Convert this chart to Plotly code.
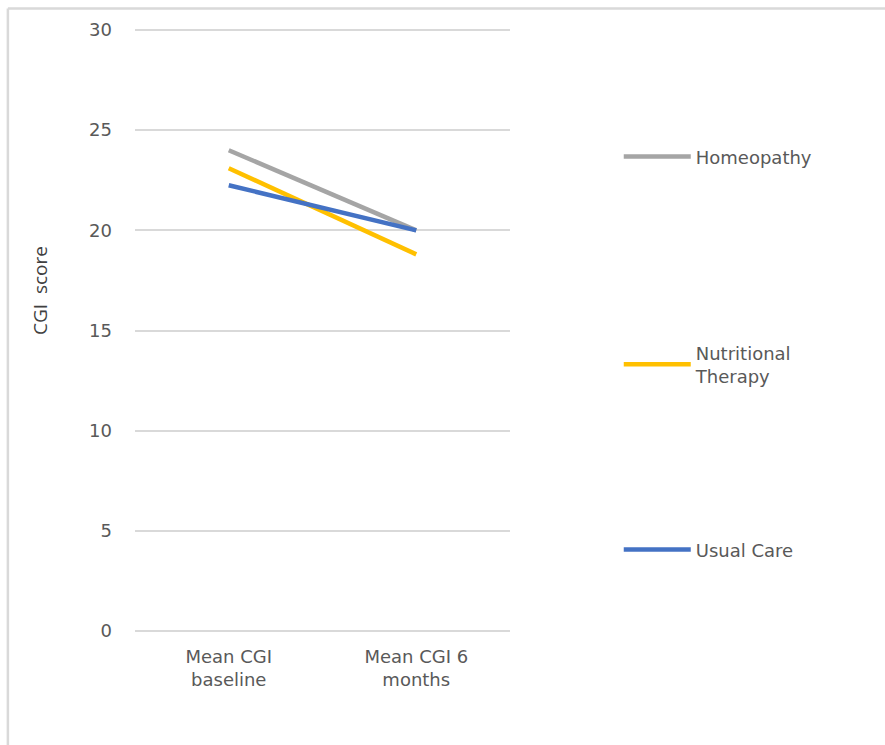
import plotly.graph_objects as go

# Timepoints and mean CGI scores per treatment group
timepoints = ["Mean CGI<br>baseline", "Mean CGI 6<br>months"]
homeopathy = [24.0, 20.0]
nutritional = [23.1, 18.8]
usual_care = [22.25, 20.0]

series = [
    ("Homeopathy", homeopathy, "#A5A5A5"),
    ("Nutritional<br>Therapy", nutritional, "#FFC000"),
    ("Usual Care", usual_care, "#4472C4"),
]

TEXT = "#595959"
FONT = "DejaVu Sans"

# each series gets its own legend box so they can be spread down the right side
legend_ids = ["legend", "legend2", "legend3"]
legend_tops = [0.8165, 0.4936, 0.169]

fig = go.Figure()
for (name, vals, color), lid in zip(series, legend_ids):
    fig.add_trace(go.Scatter(
        x=timepoints, y=vals, name=name, mode="lines",
        line=dict(color=color, width=4.5),
        legend=lid,
    ))

legend_style = dict(
    x=1.29, xanchor="left", yanchor="top", itemwidth=67,
    font=dict(family=FONT, size=18, color=TEXT),
    bgcolor="rgba(0,0,0,0)",
)

fig.update_layout(
    width=885, height=745,
    margin=dict(l=135, r=375, t=27, b=111),
    plot_bgcolor="white", paper_bgcolor="white",
    font=dict(family=FONT, size=18, color=TEXT),
    showlegend=True,
    **{lid: dict(legend_style, y=yt) for lid, yt in zip(legend_ids, legend_tops)},
    xaxis=dict(
        type="category", range=[-0.5, 1.5],
        showgrid=False, showline=False, zeroline=False, ticks="",
        ticklabelstandoff=10,
        tickfont=dict(family=FONT, size=18, color=TEXT),
    ),
    yaxis=dict(
        range=[-0.15, 30.15], dtick=5, tick0=0,
        showgrid=True, gridcolor="#D9D9D9", gridwidth=1.5,
        zeroline=False, showline=False, ticks="",
        ticklabelstandoff=22,
        tickfont=dict(family=FONT, size=18, color=TEXT),
    ),
    annotations=[
        dict(text="CGI  score", textangle=-90, showarrow=False,
             xref="paper", yref="paper", x=-0.2533, y=0.565,
             xanchor="center", yanchor="middle",
             font=dict(family="Open Sans", size=19, color="#404040")),
    ],
    shapes=[
        # outer frame along the top and left edges
        dict(type="line", xref="paper", yref="paper",
             x0=-0.339, x1=2.1, y0=1.0305, y1=1.0305,
             line=dict(color="#D9D9D9", width=2.5)),
        dict(type="line", xref="paper", yref="paper",
             x0=-0.339, x1=-0.339, y0=1.0305, y1=-0.2,
             line=dict(color="#D9D9D9", width=2.5)),
    ],
)

fig.write_html("out.html")
